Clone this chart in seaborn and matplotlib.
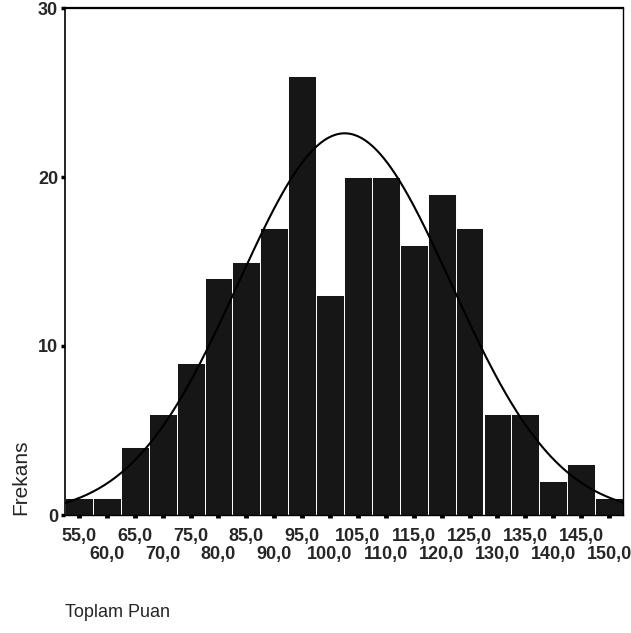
import numpy as np
import pandas as pd
import seaborn as sns
import matplotlib.pyplot as plt

# bin centres (Toplam Puan) and frequencies
centers = [55, 60, 65, 70, 75, 80, 85, 90, 95, 100,
           105, 110, 115, 120, 125, 130, 135, 140, 145, 150]
counts = [1, 1, 4, 6, 9, 14, 15, 17, 26, 13,
          20, 20, 16, 19, 17, 6, 6, 2, 3, 1]
tick_labels = ['55,0', '60,0', '65,0', '70,0', '75,0', '80,0', '85,0', '90,0',
               '95,0', '100,0', '105,0', '110,0', '115,0', '120,0', '125,0',
               '130,0', '135,0', '140,0', '145,0', '150,0']
y_ticks = [0, 10, 20, 30]

sns.set_style('white')
plt.rcParams['font.family'] = ['Liberation Sans', 'DejaVu Sans']

width = 5
lo, hi = centers[0] - width / 2, centers[-1] + width / 2
df = pd.DataFrame({'puan': centers, 'n': counts})

fig = plt.figure(figsize=(6.31, 6.33), dpi=100)
ax = fig.add_axes([65 / 631, 1 - 515 / 633, 558 / 631, 507 / 633])

sns.histplot(data=df, x='puan', weights='n', binwidth=width, binrange=(lo, hi), ax=ax,
             color='#161616', alpha=1, edgecolor='white', linewidth=0.7)

# normal curve from the data
c = np.array(centers, dtype=float)
w = np.array(counts, dtype=float)
n = w.sum()
mu = (c * w).sum() / n
sd = np.sqrt((w * (c - mu) ** 2).sum() / (n - 1))
xs = np.linspace(lo, hi, 300)
ys = n * width * np.exp(-0.5 * ((xs - mu) / sd) ** 2) / (sd * np.sqrt(2 * np.pi))
sns.lineplot(x=xs, y=ys, ax=ax, color='black', linewidth=1.5)

ax.set_xlim(lo, hi)
ax.set_ylim(0, 30)

# staggered x labels: first row on major ticks, second row on minor ticks
ax.set_xticks(centers[0::2])
ax.set_xticklabels(tick_labels[0::2], fontsize=13, fontweight='bold')
ax.set_xticks(centers[1::2], minor=True)
ax.set_xticklabels(tick_labels[1::2], minor=True, fontsize=13, fontweight='bold')
ax.tick_params(axis='x', which='major', bottom=True, length=2, width=3.5, pad=7, color='black')
ax.tick_params(axis='x', which='minor', bottom=True, length=2, width=3.5, pad=20, color='black')

ax.set_yticks(y_ticks)
ax.set_yticklabels([str(v) for v in y_ticks], fontsize=13, fontweight='bold')
ax.tick_params(axis='y', left=True, length=3, width=2.5, pad=2, color='black')

for s in ax.spines.values():
    s.set_color('black')
    s.set_linewidth(1.0)
ax.spines['top'].set_linewidth(1.6)
ax.spines['left'].set_linewidth(1.2)

ax.set_ylabel('Frekans', loc='bottom', fontsize=15)
ax.yaxis.set_label_coords(-0.063, 0)
ax.set_xlabel('Toplam Puan', loc='left', fontsize=13)
ax.xaxis.set_label_coords(0, -0.175)

fig.savefig('out.png', dpi=100)
